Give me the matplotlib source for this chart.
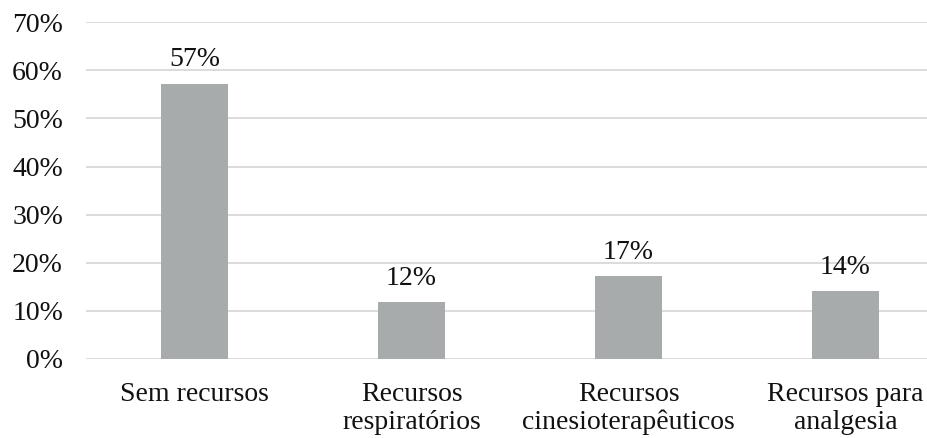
import matplotlib
matplotlib.use("Agg")
import matplotlib.pyplot as plt
from matplotlib.ticker import FuncFormatter, MultipleLocator

categories = ["Sem recursos", "Recursos\nrespiratórios",
              "Recursos\ncinesioterapêuticos", "Recursos para\nanalgesia"]
values = [57.2, 11.7, 17.2, 14.1]
labels = ["57%", "12%", "17%", "14%"]

plt.rcParams["font.family"] = ["Liberation Serif", "DejaVu Serif"]
FS = 20
TXT = "#111111"

fig = plt.figure(figsize=(9.28, 4.38), dpi=100)
ax = fig.add_axes([0.0927, 0.181, 0.9073, 0.768])

x = list(range(len(categories)))
bars = ax.bar(x, values, width=0.313, color="#A8ABAB", zorder=2)

for rect, lab in zip(bars, labels):
    ax.annotate(lab, (rect.get_x() + rect.get_width() / 2, rect.get_height()),
                xytext=(0, 12.5), textcoords="offset points",
                ha="center", va="baseline", fontsize=FS, color=TXT)

ax.set_ylim(0, 70)
ax.set_xlim(-0.5, 3.38)
ax.yaxis.set_major_locator(MultipleLocator(10))
ax.yaxis.set_major_formatter(FuncFormatter(lambda v, p: f"{v:.0f}%"))
ax.yaxis.grid(True, color="#D9D9D9", linewidth=1.3, zorder=0)
ax.set_axisbelow(True)

ax.set_xticks(x)
ax.set_xticklabels(categories, fontsize=FS, color=TXT, va="top",
                   linespacing=1.12)
ax.tick_params(axis="y", labelsize=FS, labelcolor=TXT, length=0, pad=16.5)
ax.tick_params(axis="x", length=0, pad=17)

for s in ("top", "right", "left", "bottom"):
    ax.spines[s].set_visible(False)

fig.savefig("out.png", dpi=100)
